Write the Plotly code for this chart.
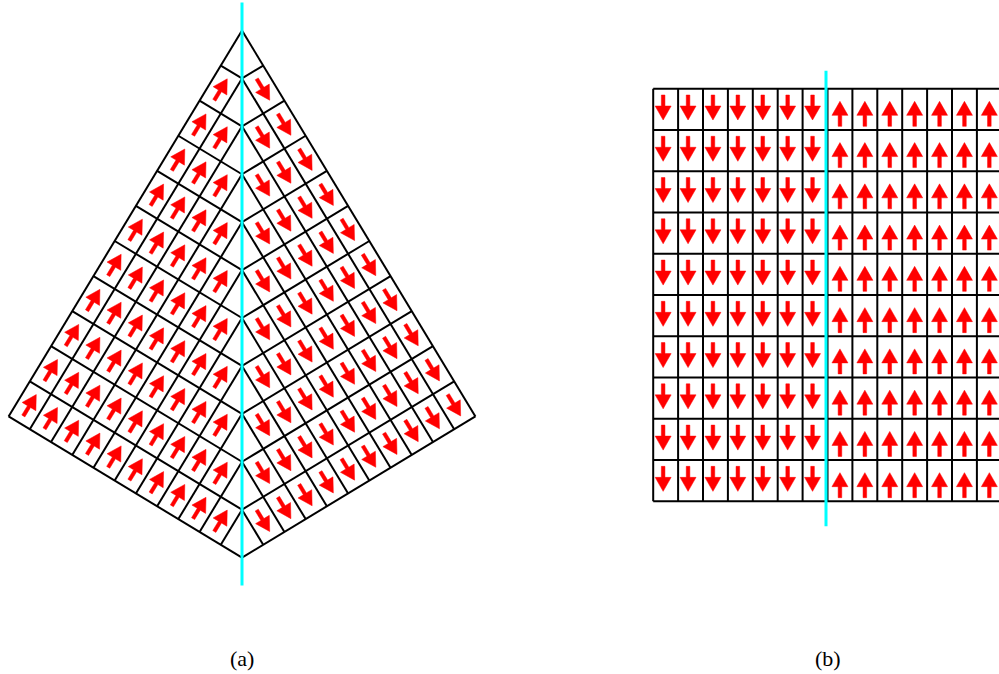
import math
import plotly.graph_objects as go

# ---------------- data ----------------
panel_labels = ["(a)", "(b)"]

# Panel (a): left half of the kite lattice. Row j runs along the long lattice axis
# (from the left corner upwards), one entry per complete cell (+1 = arrow along +long axis).
kite_left_spins = [
    [1, 1, 1, 1, 1, 1, 1, 1, 1, 1],
    [1, 1, 1, 1, 1, 1, 1, 1, 1],
    [1, 1, 1, 1, 1, 1, 1, 1],
    [1, 1, 1, 1, 1, 1, 1],
    [1, 1, 1, 1, 1, 1],
    [1, 1, 1, 1, 1],
    [1, 1, 1, 1],
    [1, 1, 1],
    [1, 1],
    [1],
]
# right half (mirror image of the left lattice), arrows reversed
kite_right_spins = [
    [-1, -1, -1, -1, -1, -1, -1, -1, -1, -1],
    [-1, -1, -1, -1, -1, -1, -1, -1, -1],
    [-1, -1, -1, -1, -1, -1, -1, -1],
    [-1, -1, -1, -1, -1, -1, -1],
    [-1, -1, -1, -1, -1, -1],
    [-1, -1, -1, -1, -1],
    [-1, -1, -1, -1],
    [-1, -1, -1],
    [-1, -1],
    [-1],
]

# Panel (b): 10 rows x 14 columns (-1 = down, +1 = up)
grid_spins = [
    [-1, -1, -1, -1, -1, -1, -1, 1, 1, 1, 1, 1, 1, 1],
    [-1, -1, -1, -1, -1, -1, -1, 1, 1, 1, 1, 1, 1, 1],
    [-1, -1, -1, -1, -1, -1, -1, 1, 1, 1, 1, 1, 1, 1],
    [-1, -1, -1, -1, -1, -1, -1, 1, 1, 1, 1, 1, 1, 1],
    [-1, -1, -1, -1, -1, -1, -1, 1, 1, 1, 1, 1, 1, 1],
    [-1, -1, -1, -1, -1, -1, -1, 1, 1, 1, 1, 1, 1, 1],
    [-1, -1, -1, -1, -1, -1, -1, 1, 1, 1, 1, 1, 1, 1],
    [-1, -1, -1, -1, -1, -1, -1, 1, 1, 1, 1, 1, 1, 1],
    [-1, -1, -1, -1, -1, -1, -1, 1, 1, 1, 1, 1, 1, 1],
    [-1, -1, -1, -1, -1, -1, -1, 1, 1, 1, 1, 1, 1, 1],
]
grid_wall_column = 7   # domain wall lies before this column

# ---------------- layout / style constants ----------------
W, H = 999, 674
KITE_N = 11
KITE_CX, KITE_TOP = 242.0, 30.5
KITE_CU, KITE_CV = 24.8, 41.0
GRID_X0, GRID_Y0 = 653.2, 88.7
GRID_CW, GRID_CH = 24.9, 41.26

ARROW_LEN, HEAD_LEN, HEAD_W, SHAFT_W = 25.0, 14.0, 16.0, 3.6
RED, CYAN, BLACK = "#FF0000", "#00FFFF", "#000000"


def arrow_poly(cx, cy, dx, dy):
    """polygon for an arrow centred at (cx,cy) pointing along unit (dx,dy)"""
    px, py = -dy, dx
    pts_local = [
        (-ARROW_LEN / 2, -SHAFT_W / 2),
        (ARROW_LEN / 2 - HEAD_LEN, -SHAFT_W / 2),
        (ARROW_LEN / 2 - HEAD_LEN, -HEAD_W / 2),
        (ARROW_LEN / 2, 0),
        (ARROW_LEN / 2 - HEAD_LEN, HEAD_W / 2),
        (ARROW_LEN / 2 - HEAD_LEN, SHAFT_W / 2),
        (-ARROW_LEN / 2, SHAFT_W / 2),
        (-ARROW_LEN / 2, -SHAFT_W / 2),
    ]
    xs = [cx + a * dx + b * px for a, b in pts_local]
    ys = [cy + a * dy + b * py for a, b in pts_local]
    return xs, ys


line_x, line_y = [], []
arr_x, arr_y = [], []


def add_seg(p, q):
    line_x.extend([p[0], q[0], None])
    line_y.extend([p[1], q[1], None])


def add_arrow(cx, cy, dx, dy):
    xs, ys = arrow_poly(cx, cy, dx, dy)
    arr_x.extend(xs + [None])
    arr_y.extend(ys + [None])


# ---------------- panel (a): kite ----------------
theta = math.atan2(KITE_CU, KITE_CV)
eu = (math.cos(theta), math.sin(theta))        # short axis (down-right)
ev = (math.sin(theta), -math.cos(theta))       # long axis (up-right)
b_len = KITE_N * KITE_CV
Lx = KITE_CX - b_len * ev[0]
Ly = KITE_TOP - b_len * ev[1]


def kite_pt(u, v, mirror):
    x = Lx + u * KITE_CU * eu[0] + v * KITE_CV * ev[0]
    y = Ly + u * KITE_CU * eu[1] + v * KITE_CV * ev[1]
    if mirror:
        x = 2 * KITE_CX - x
    return x, y


for mirror, spins in ((False, kite_left_spins), (True, kite_right_spins)):
    for k in range(KITE_N):
        add_seg(kite_pt(0, k, mirror), kite_pt(KITE_N - k, k, mirror))
        add_seg(kite_pt(k, 0, mirror), kite_pt(k, KITE_N - k, mirror))
    for j, row in enumerate(spins):
        for i, s in enumerate(row):
            if s == 0:
                continue
            cx, cy = kite_pt(i + 0.5, j + 0.5, mirror)
            dx, dy = ev
            if mirror:
                dx = -dx
            add_arrow(cx, cy, s * dx, s * dy)

kite_bottom = kite_pt(KITE_N, 0, False)[1]

# ---------------- panel (b): square lattice ----------------
n_rows, n_cols = len(grid_spins), len(grid_spins[0])
for r in range(n_rows + 1):
    y = GRID_Y0 + r * GRID_CH
    add_seg((GRID_X0, y), (GRID_X0 + n_cols * GRID_CW, y))
for c in range(n_cols + 1):
    x = GRID_X0 + c * GRID_CW
    add_seg((x, GRID_Y0), (x, GRID_Y0 + n_rows * GRID_CH))
for r, row in enumerate(grid_spins):
    for c, s in enumerate(row):
        cx = GRID_X0 + (c + 0.5) * GRID_CW
        cy = GRID_Y0 + (r + 0.5) * GRID_CH
        if s < 0:
            cx, cy = cx - 2.5, cy - 1.8
        else:
            cy = cy + 4.5
        add_arrow(cx, cy, 0.0, -float(s))

wall_x = GRID_X0 + grid_wall_column * GRID_CW - 1.5

fig = go.Figure()
fig.add_trace(go.Scatter(x=line_x, y=line_y, mode="lines",
                         line=dict(color=BLACK, width=2), hoverinfo="skip"))
fig.add_trace(go.Scatter(x=arr_x, y=arr_y, mode="lines", fill="toself",
                         fillcolor=RED, line=dict(color=RED, width=0.5),
                         hoverinfo="skip"))
# cyan domain-wall lines
fig.add_trace(go.Scatter(x=[KITE_CX, KITE_CX], y=[KITE_TOP - 28, kite_bottom + 28],
                         mode="lines", line=dict(color=CYAN, width=3), hoverinfo="skip"))
fig.add_trace(go.Scatter(x=[wall_x, wall_x],
                         y=[GRID_Y0 - 18, GRID_Y0 + n_rows * GRID_CH + 25],
                         mode="lines", line=dict(color=CYAN, width=3), hoverinfo="skip"))

for lab, xpos in zip(panel_labels, [KITE_CX, wall_x + 1.5]):
    fig.add_annotation(x=xpos, y=658, text=lab, showarrow=False, xref="x", yref="y",
                       font=dict(family="Liberation Serif", size=22, color="black"))

fig.update_layout(width=W, height=H,
                  margin=dict(l=0, r=0, t=0, b=0, pad=0),
                  paper_bgcolor="white", plot_bgcolor="white", showlegend=False,
                  hovermode=False,
                  xaxis=dict(range=[0, W], visible=False, fixedrange=True),
                  yaxis=dict(range=[H, 0], visible=False, fixedrange=True))
# remove the page's default body margin so the figure fills the window exactly
fig.write_html("out.html",
               config={"displayModeBar": False, "staticPlot": True},
               post_script="document.body.style.margin='0';"
                           "document.body.style.overflow='hidden';")
